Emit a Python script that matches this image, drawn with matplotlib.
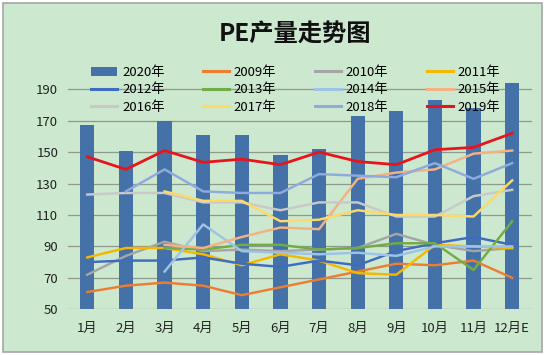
import numpy as np
import matplotlib
matplotlib.use("Agg")
import matplotlib.pyplot as plt
from matplotlib.patches import Rectangle

plt.rcParams['font.family'] = ['Noto Sans CJK SC', 'DejaVu Sans']

nan = np.nan
months = ['1月', '2月', '3月', '4月', '5月', '6月', '7月', '8月', '9月', '10月', '11月', '12月E']
y2020 = [167, 151, 170, 161, 161, 148, 152, 173, 176, 183, 178, 194]
y2009 = [61, 65, 67, 65, 59, 64, 69, 74, 79, 78, 81, 70]
y2010 = [72, 84, 93, 87, 88, 87, 88, 89, 98, 91, 87, 89]
y2011 = [83, 89, 89, 85, 78, 85, 81, 73, 72, 91, 90, 89]
y2012 = [80, 81, 81, 83, 79, 77, 81, 78, 87, 92, 96, 91]
y2013 = [nan, nan, 89, 88, 91, 91, 88, 89, 92, 92, 75, 106]
y2014 = [nan, nan, 74, 104, 87, 86, 85, 86, 84, 90, 90, 90]
y2015 = [nan, nan, 91, 89, 96, 102, 101, 133, 137, 139, 149, 151]
y2016 = [123, 124, 124, 118, 118, 113, 118, 118, 109, 109, 122, 126]
y2017 = [nan, nan, 125, 119, 119, 106, 107, 113, 110, 110, 109, 132]
y2018 = [nan, 125, 139, 125, 124, 124, 136, 135, 134, 143, 133, 143]
y2019 = [147, 139, 151, 143.5, 145.5, 142, 150, 144, 142, 151.5, 153, 162]
yticks = [50, 70, 90, 110, 130, 150, 170, 190]

line_series = [
    ('2009年', y2009, '#ED7D31'),
    ('2010年', y2010, '#A5A5A5'),
    ('2011年', y2011, '#F5B800'),
    ('2012年', y2012, '#3F6BC0'),
    ('2013年', y2013, '#70AD47'),
    ('2014年', y2014, '#9DC3E6'),
    ('2015年', y2015, '#F4B183'),
    ('2016年', y2016, '#C9C9C9'),
    ('2017年', y2017, '#FFD966'),
    ('2018年', y2018, '#8FAADC'),
    ('2019年', y2019, '#E8141B'),
]

W, H = 550, 355
fig = plt.figure(figsize=(W / 100, H / 100), dpi=100)
fig.patch.set_facecolor('white')
bg = Rectangle((3 / W, 3 / H), 539 / W, 349 / H, transform=fig.transFigure,
               facecolor='#CCE8CF', edgecolor='#A6A6A6', linewidth=1.2, zorder=-10)
fig.patches.append(bg)

ax = fig.add_axes([68 / W, (H - 309.3) / H, (531.5 - 68) / W, (309.3 - 73.5) / H])
ax.set_zorder(1)
ax.set_facecolor('none')
x = np.arange(len(months))
handles = []
b = ax.bar(x, y2020, width=0.37, color='#4472A8', zorder=2, label='2020年')
handles.append(b)
for name, vals, col in line_series:
    lw = 2.0 if name == '2019年' else 1.75
    l, = ax.plot(x, vals, color=col, linewidth=lw, zorder=3, label=name)
    handles.append(l)

ax.set_xlim(-0.5, len(months) - 0.5)
ax.set_ylim(50, 200)
ax.set_yticks(yticks)
ax.set_xticks(x)
ax.set_xticklabels(months)
ax.grid(axis='y', color='#8E9A8E', linewidth=0.9, zorder=1)
ax.set_axisbelow(True)
for s in ax.spines.values():
    s.set_visible(False)
ax.tick_params(axis='both', length=0, labelsize=9.5, colors='#222222')
ax.tick_params(axis='y', pad=7)
ax.tick_params(axis='x', pad=9)

order = [0, 4, 8, 1, 5, 9, 2, 6, 10, 3, 7, 11]
hh = [handles[i] for i in order]
ll = [handles[i].get_label() for i in order]
leg = fig.legend(hh, ll, ncol=4, loc='upper left', bbox_to_anchor=(91 / W, 1 - 66 / H),
                 frameon=False, fontsize=9.5, borderpad=0, labelspacing=0.34,
                 handlelength=2.0, handletextpad=0.35, columnspacing=2.9, borderaxespad=0)
leg.set_zorder(5)
for lh in leg.legend_handles[1:]:
    try:
        lh.set_linewidth(2.2)
    except Exception:
        pass

fig.text(295 / W, 1 - 34 / H, 'PE产量走势图', ha='center', va='center',
         fontsize=17.5, fontweight='bold', color='#111111')

fig.savefig('out.png', dpi=100, facecolor=fig.get_facecolor())
